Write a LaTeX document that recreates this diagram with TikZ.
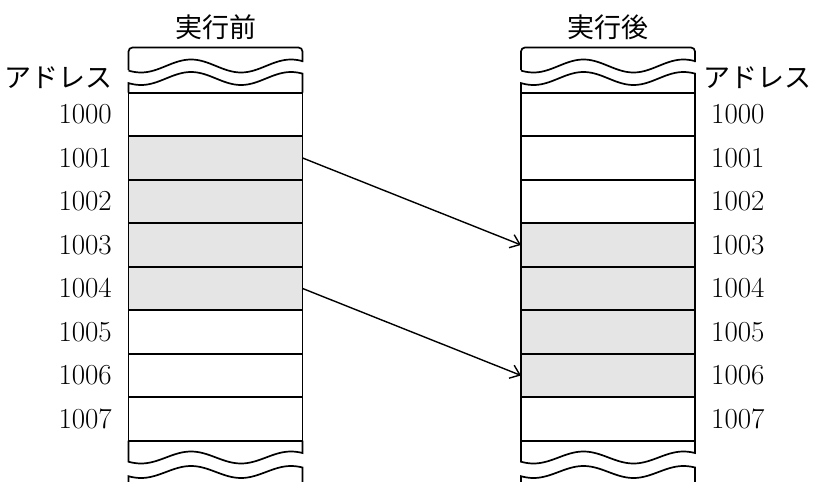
\documentclass[tikz,border=0pt]{standalone}
\usepackage{fontspec}
\newfontfamily\jp{Noto Sans CJK JP}
\usetikzlibrary{arrows.meta}
\colorlet{shd}{black!10}
\tikzset{
  cell/.style={draw, line width=1.7pt, minimum width=174pt, minimum height=43.5pt, inner sep=0pt, outer sep=0pt, anchor=north west},
  num/.style={font=\fontsize{29}{32}\selectfont, inner sep=0pt},
  jlabel/.style={font=\jp\fontsize{27}{30}\selectfont, inner sep=0pt},
  title/.style={font=\jp\fontsize{27}{30}\selectfont, inner sep=0pt},
  edge/.style={line width=1.7pt},
  link/.style={line width=1.4pt, -{Straight Barb[length=9pt,width=14pt,line width=1.4pt]}}
}
\begin{document}
\begin{tikzpicture}[x=1pt,y=-1pt]
\useasboundingbox (0,0) rectangle (815,482);
% columns
\foreach \ox/\n/\a/\b in {128.5/L/1/4, 521/R/3/6}{
  \foreach \i in {0,...,7}{
    \pgfmathtruncatemacro\sh{and(\i>=\a,\i<=\b)}
    \ifnum\sh=1
      \node[cell, fill=shd] (\n\i) at ({\ox},{92.7+43.5*\i}) {};
    \else
      \node[cell] (\n\i) at ({\ox},{92.7+43.5*\i}) {};
    \fi
  }
  % top cap
  \draw[edge, rounded corners=4pt] ({\ox},70) -- ({\ox},47.5) -- ({\ox+174},47.5) -- ({\ox+174},62);
  \draw[edge] plot[domain=0:174, samples=70, smooth] ({\ox+\x},{66+6.5*cos(3.6*(\x-12.5))});
  % piece below the break
  \draw[edge] ({\ox},92.7) -- plot[domain=0:174, samples=70, smooth] ({\ox+\x},{78.5+6.5*cos(3.6*(\x-12.5))}) -- ({\ox+174},92.7);
  % bottom part above the break
  \draw[edge] ({\ox},440.7) -- plot[domain=0:174, samples=70, smooth] ({\ox+\x},{457.5+6*cos(3.6*(\x-12.5))}) -- ({\ox+174},440.7);
  % lowest piece
  \draw[edge] ({\ox},483) -- plot[domain=0:174, samples=70, smooth] ({\ox+\x},{472+6*cos(3.6*(\x-12.5))}) -- ({\ox+174},483);
}
% titles
\node[title] (tl) at (215.5,27) {実行前};
\node[title] (tr) at (608,27) {実行後};
% address labels
\node[jlabel, anchor=east] (al) at (113,78) {アドレス};
\node[jlabel, anchor=west] (ar) at (703,78) {アドレス};
% numbers
\foreach \i in {0,...,7}{
  \node[num, anchor=east] (nl\i) at (112,{114.5+43.5*\i}) {100\i};
  \node[num, anchor=west] (nr\i) at (711,{114.5+43.5*\i}) {100\i};
}
% arrows
\draw[link] (L1.east) -- (R3.west);
\draw[link] (L4.east) -- (R6.west);
\end{tikzpicture}
\end{document}
